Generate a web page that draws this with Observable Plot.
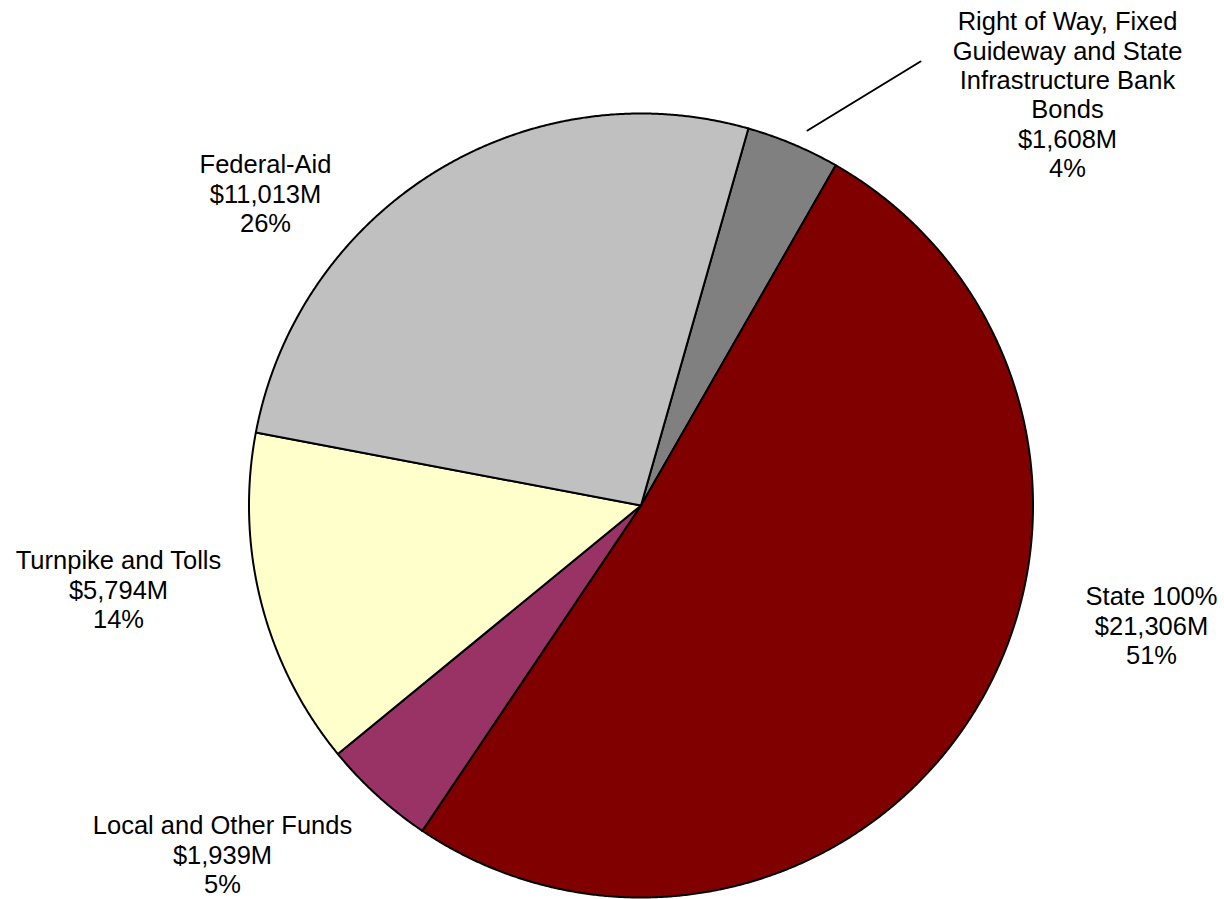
<!DOCTYPE html>
<html>
<head>
<meta charset="utf-8">
<script src="https://cdn.jsdelivr.net/npm/d3@7"></script>
<script src="https://cdn.jsdelivr.net/npm/@observablehq/plot@0.6"></script>
<style>
  html, body { margin: 0; padding: 0; background: #fff; }
  #chart svg { display: block; }
</style>
</head>
<body>
<div id="chart"></div>
<script>
// ---- data (clockwise order, starting at the Right of Way slice) ----
const categories = [
  "Right of Way, Fixed Guideway and State Infrastructure Bank Bonds",
  "State 100%",
  "Local and Other Funds",
  "Turnpike and Tolls",
  "Federal-Aid"
];
const amounts = [1608, 21306, 1939, 5794, 11013];           // $M
const percents = [4, 51, 5, 14, 26];                          // as labelled
const labelLines = [
  ["Right of Way, Fixed", "Guideway and State", "Infrastructure Bank", "Bonds"],
  ["State 100%"],
  ["Local and Other Funds"],
  ["Turnpike and Tolls"],
  ["Federal-Aid"]
];
const colors = ["#808080", "#800000", "#993366", "#FFFFCC", "#C0C0C0"];

// ---- layout ----
const W = 1224, H = 899;
const cx = 640.5, cy = 505, R = 392;
const startDeg = 15.9;
const labelAnchors = [ // [x, top y] in pixels
  [1067, 9], [1151, 584], [222, 813], [118, 548], [265, 152]
];
const leader = [[807, 130], [920, 61]];

const fmt = d3.format(",");
const pie = d3.pie().sort(null).value(d => d)
  .startAngle(startDeg * Math.PI / 180)
  .endAngle((startDeg + 360) * Math.PI / 180);
const arcs = pie(amounts);

const pts = [];
arcs.forEach((a, i) => {
  const name = categories[i];
  pts.push({name, x: cx, y: cy});
  const n = Math.max(2, Math.ceil((a.endAngle - a.startAngle) / (Math.PI / 720)));
  for (let k = 0; k <= n; k++) {
    const t = a.startAngle + (a.endAngle - a.startAngle) * k / n;
    pts.push({name, x: cx + R * Math.sin(t), y: cy - R * Math.cos(t)});
  }
  pts.push({name, x: cx, y: cy});
});

const labels = categories.map((c, i) => ({
  text: [...labelLines[i], "$" + fmt(amounts[i]) + "M", percents[i] + "%"].join("\n"),
  x: labelAnchors[i][0],
  y: labelAnchors[i][1]
}));

const chart = Plot.plot({
  width: W,
  height: H,
  margin: 0,
  x: {domain: [0, W], range: [0, W], axis: null},
  y: {domain: [0, H], range: [0, H], axis: null},
  color: {domain: categories, range: colors},
  style: {fontFamily: "Liberation Sans, Arial, sans-serif", background: "#fff"},
  marks: [
    Plot.line(pts, {x: "x", y: "y", z: "name", fill: "name", stroke: "#000",
      strokeWidth: 2, strokeLinejoin: "round", curve: "linear"}),
    Plot.line(leader, {x: d => d[0], y: d => d[1], stroke: "#000", strokeWidth: 2}),
    Plot.text(labels, {x: "x", y: "y", text: "text", textAnchor: "middle",
      lineAnchor: "top", lineHeight: 1.15, fontSize: 25.5, fill: "#000"})
  ]
});
document.getElementById("chart").appendChild(chart);
</script>
</body>
</html>
